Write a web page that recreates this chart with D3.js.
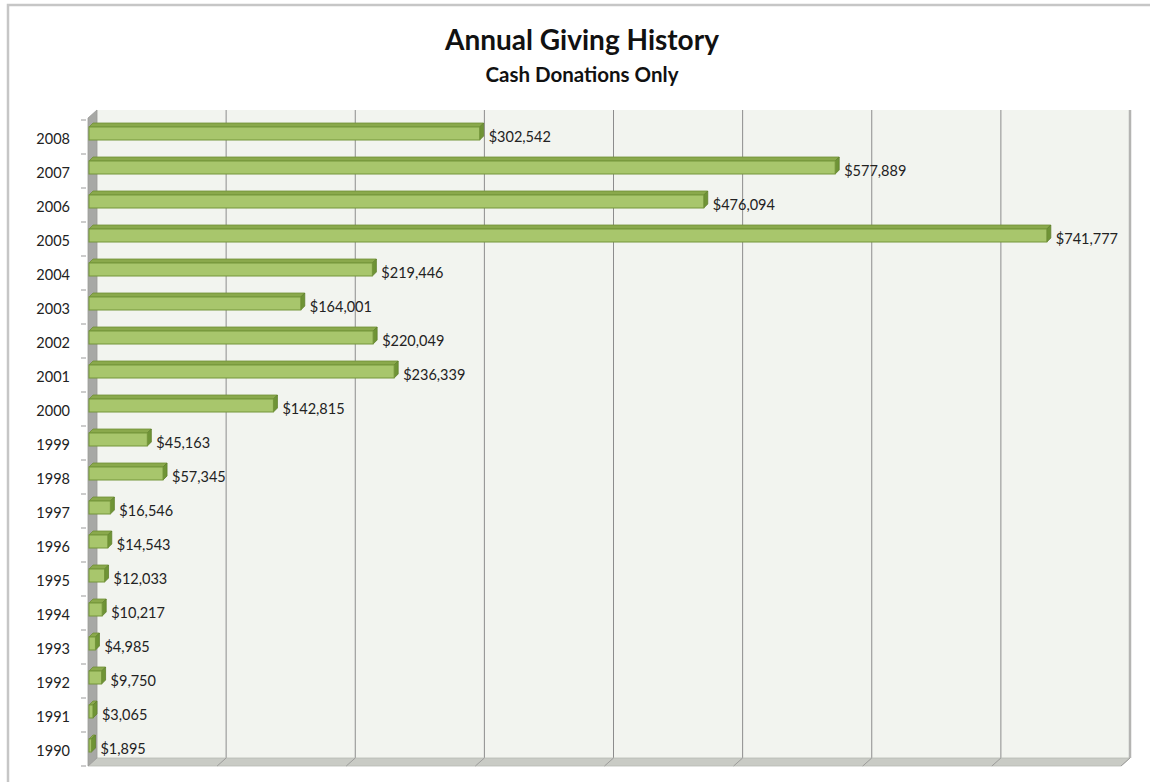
<!DOCTYPE html>
<html>
<head>
<meta charset="utf-8">
<script src="https://cdn.jsdelivr.net/npm/d3@7"></script>
<style>
  body { margin: 0; background: #fff; }
  svg { display: block; }
</style>
</head>
<body>
<script>
// data, top bar first
const years = ['2008', '2007', '2006', '2005', '2004', '2003', '2002', '2001', '2000', '1999',
               '1998', '1997', '1996', '1995', '1994', '1993', '1992', '1991', '1990']
const donations = [302542, 577889, 476094, 741777, 219446, 164001, 220049, 236339, 142815, 45163,
                   57345, 16546, 14543, 12033, 10217, 4985, 9750, 3065, 1895]
const gridValues = [0, 100000, 200000, 300000, 400000, 500000, 600000, 700000, 800000]

const w = 1150, h = 782
const FONT = 'Lato, "Open Sans", sans-serif'

// 3d offsets
const DX = 9, DY = -8          // back wall vs front plane
const BD = 4                   // bar depth
const frontX = 88, backX = frontX + DX
const frontTop = 120, frontBottom = 766

let svg = d3.select('body').append('svg')
    .attr('width', w)
    .attr('height', h)

// outer chart frame (only top and left visible)
svg.append('rect')
    .attr('x', 8).attr('y', 5)
    .attr('width', w + 20).attr('height', h + 20)
    .attr('fill', 'none')
    .attr('stroke', '#c6c6c6')
    .attr('stroke-width', 2.5)

// titles
svg.append('text')
    .attr('x', 582).attr('y', 50)
    .attr('text-anchor', 'middle')
    .style('font-family', FONT)
    .style('font-weight', 'bold')
    .style('font-size', '28px')
    .attr('fill', '#111')
    .text('Annual Giving History')

svg.append('text')
    .attr('x', 582).attr('y', 82)
    .attr('text-anchor', 'middle')
    .style('font-family', FONT)
    .style('font-weight', 'bold')
    .style('font-size', '20.5px')
    .attr('fill', '#111')
    .text('Cash Donations Only')

let x = d3.scaleLinear().domain([0, 800000]).range([0, 1033])
let y = d3.scaleBand().domain(years).range([frontTop, frontBottom])

const backTop = frontTop + DY - 2, backBottom = frontBottom + DY

// back wall
svg.append('rect')
    .attr('x', backX).attr('y', backTop)
    .attr('width', x(800000)).attr('height', backBottom - backTop)
    .attr('fill', '#f2f4ef')

// gridlines on back wall
svg.selectAll('.grid')
    .data(gridValues.slice(1))
    .enter().append('line')
    .attr('class', 'grid')
    .attr('x1', d => backX + x(d)).attr('x2', d => backX + x(d))
    .attr('y1', backTop).attr('y2', backBottom)
    .attr('stroke', d => d === 800000 ? '#b4b4b2' : '#8c8c8c')
    .attr('stroke-width', d => d === 800000 ? 2.5 : 1)

// floor
const right = x(800000)
svg.append('path')
    .attr('d', `M${backX},${backBottom} L${backX + right},${backBottom} L${frontX + right},${frontBottom} L${frontX},${frontBottom} Z`)
    .attr('fill', '#c9cbc5')
    .attr('stroke', '#b8bab4')
    .attr('stroke-width', 0.8)

svg.selectAll('.floorgrid')
    .data(gridValues.slice(1))
    .enter().append('line')
    .attr('class', 'floorgrid')
    .attr('x1', d => backX + x(d)).attr('y1', backBottom)
    .attr('x2', d => frontX + x(d)).attr('y2', frontBottom)
    .attr('stroke', '#9c9c9a')
    .attr('stroke-width', 1)

// left wall
svg.append('path')
    .attr('d', `M${frontX},${frontTop - 2} L${backX},${backTop} L${backX},${backBottom} L${frontX},${frontBottom} Z`)
    .attr('fill', '#a7a8a5')
    .attr('stroke', '#9a9b98')
    .attr('stroke-width', 0.8)

// category ticks
svg.selectAll('.tick')
    .data(years.concat(['end']))
    .enter().append('line')
    .attr('class', 'tick')
    .attr('x1', frontX - 7).attr('x2', frontX - 2)
    .attr('y1', (d, i) => frontTop + i * y.bandwidth())
    .attr('y2', (d, i) => frontTop + i * y.bandwidth())
    .attr('stroke', '#999')
    .attr('stroke-width', 1)

// category labels
svg.selectAll('.year')
    .data(years)
    .enter().append('text')
    .attr('class', 'year')
    .attr('x', 70)
    .attr('y', d => y(d) + 24)
    .attr('text-anchor', 'end')
    .style('font-family', FONT)
    .style('font-size', '14.5px')
    .attr('fill', '#222')
    .text(d => d)

// bars
const barTop = 7, barH = 13
let rows = years.map((yr, i) => ({ year: yr, value: donations[i] }))

let bar = svg.selectAll('.bar')
    .data(rows)
    .enter().append('g')
    .attr('class', 'bar')
    .attr('transform', d => 'translate(' + (frontX + 1) + ',' + (y(d.year) + barTop) + ')')

// top face
bar.append('path')
    .attr('d', d => {
        let bw = Math.max(x(d.value), 1.5)
        return `M0,0 L${BD},${-BD} L${bw + BD},${-BD} L${bw},0 Z`
    })
    .attr('fill', '#8aa94c')
    .attr('stroke', '#6f8f36')
    .attr('stroke-width', 0.8)

// side face
bar.append('path')
    .attr('d', d => {
        let bw = Math.max(x(d.value), 1.5)
        return `M${bw},0 L${bw + BD},${-BD} L${bw + BD},${barH - BD} L${bw},${barH} Z`
    })
    .attr('fill', '#6f9436')
    .attr('stroke', '#5f7f2c')
    .attr('stroke-width', 0.8)

// front face
bar.append('rect')
    .attr('x', 0).attr('y', 0)
    .attr('width', d => Math.max(x(d.value), 1.5))
    .attr('height', barH)
    .attr('fill', '#a8c66c')
    .attr('stroke', '#75963a')
    .attr('stroke-width', 1)

// value labels
bar.append('text')
    .attr('x', d => Math.max(x(d.value), 1.5) + 9)
    .attr('y', barH + 2)
    .style('font-family', FONT)
    .style('font-size', '14.5px')
    .attr('fill', '#222')
    .text(d => '$' + d3.format(',')(d.value))
</script>
</body>
</html>
